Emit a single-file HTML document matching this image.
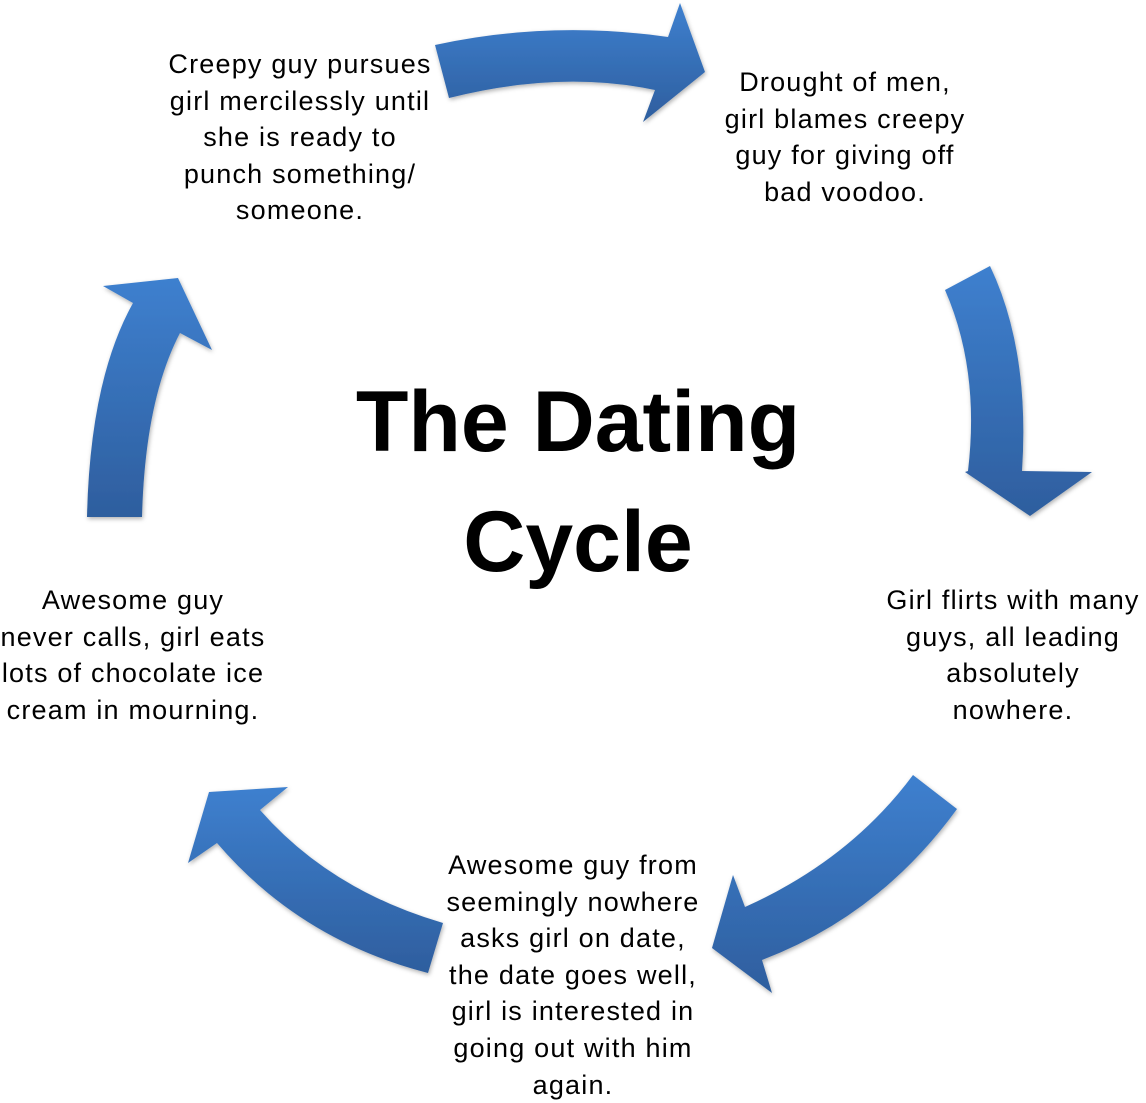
<!DOCTYPE html>
<html><head><meta charset="utf-8"><style>
body{margin:0;width:1146px;height:1100px;background:#fff;position:relative;overflow:hidden;font-family:"Liberation Sans",sans-serif;}
.t{position:absolute;text-align:center;font-size:27px;letter-spacing:1.2px;line-height:36.6px;color:#000;white-space:nowrap;transform:translateX(-50%);}
.title{position:absolute;left:578px;transform:translateX(-50%);text-align:center;font-weight:bold;font-size:86px;line-height:120px;top:362px;white-space:nowrap;}
svg{position:absolute;left:0;top:0;}
</style></head><body>
<svg width="1146" height="1100">
<defs><linearGradient id="g" x1="0" y1="0" x2="0" y2="1"><stop offset="0" stop-color="#3e80cf"/><stop offset="1" stop-color="#2e5e9e"/></linearGradient>
<filter id="s"><feDropShadow dx="1" dy="2" stdDeviation="2" flood-opacity="0.3"/></filter></defs>
<g fill="url(#g)" filter="url(#s)">
<path d="M435,45 Q550,20 668,37 L680,3 L705,72 L643,122 L655,90 Q560,70 449,98 Z"/>
<path d="M945,290 L990,266 Q1030,350 1022,471 L1092,472 L1030,516 L965,472 L968,471 Q980,370 945,290 Z"/>
<path d="M913,775 L957,809 Q880,915 762,960 L772,993 L712,948 L733,875 L745,907 Q850,860 913,775 Z"/>
<path d="M443,923 L428,973 Q300,940 217,843 L188,863 L209,792 L288,787 L260,810 Q330,890 443,923 Z"/>
<path d="M87,517 L142,517 Q145,400 180,333 L212,350 L178,278 L103,286 L133,303 Q90,380 87,517 Z"/>
</g>
</svg>
<div class="t" style="left:300px;top:46px">Creepy guy pursues<br>girl mercilessly until<br>she is ready to<br>punch something/<br>someone.</div>
<div class="t" style="left:845px;top:64px">Drought of men,<br>girl blames creepy<br>guy for giving off<br>bad voodoo.</div>
<div class="t" style="left:1013px;top:582px">Girl flirts with many<br>guys, all leading<br>absolutely<br>nowhere.</div>
<div class="t" style="left:573px;top:847px">Awesome guy from<br>seemingly nowhere<br>asks girl on date,<br>the date goes well,<br>girl is interested in<br>going out with him<br>again.</div>
<div class="t" style="left:133px;top:582px">Awesome guy<br>never calls, girl eats<br>lots of chocolate ice<br>cream in mourning.</div>
<div class="title">The Dating<br>Cycle</div>
</body></html>
